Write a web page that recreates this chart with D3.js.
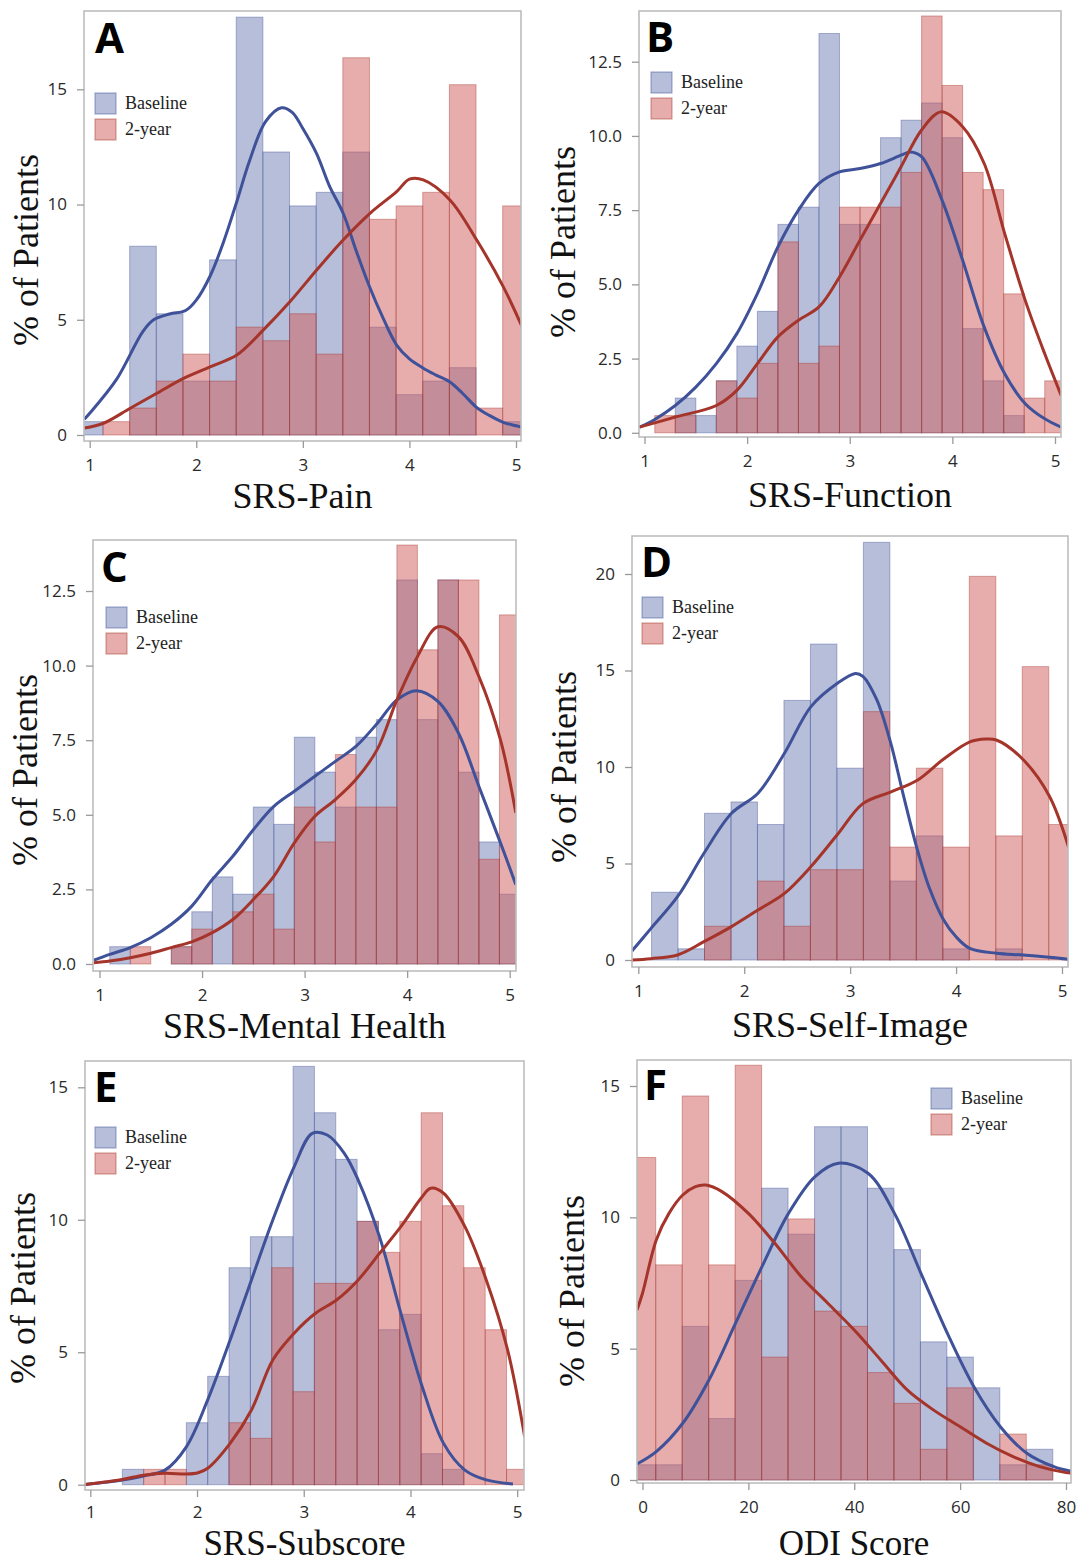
<!DOCTYPE html>
<html><head><meta charset="utf-8">
<script src="https://cdn.jsdelivr.net/npm/d3@7"></script>
<style>body{margin:0;background:#fff}</style>
</head><body>
<svg id="chart" width="1078" height="1563" xmlns="http://www.w3.org/2000/svg"></svg>
<script>
// ---------------- DATA (percent of patients) ----------------
const seriesNames = ["Baseline", "2-year"];

// A: SRS-Pain (bin width 0.25)
const aCenters  = [1.0,1.25,1.5,1.75,2.0,2.25,2.5,2.75,3.0,3.25,3.5,3.75,4.0,4.25,4.5,4.75,5.0];
const aBaseline = [0.58,0,8.19,5.26,2.34,7.60,18.13,12.28,9.94,10.53,12.28,4.68,1.75,2.34,2.92,0,0.58];
const aTwoYear  = [0,0.58,1.17,2.34,3.51,2.34,4.68,4.09,5.26,3.51,16.37,9.36,9.94,10.53,15.20,1.17,9.94];
const aBaseCurve = [[0.95,0.68],[1.0,0.94],[1.25,2.4],[1.5,4.5],[1.6,5.0],[1.75,5.25],[1.9,5.4],[2.0,5.85],[2.13,6.9],[2.25,8.3],[2.385,10.2],[2.5,11.9],[2.65,13.6],[2.8,14.2],[2.9,14.0],[3.0,13.3],[3.13,12.2],[3.25,10.8],[3.38,9.6],[3.5,8.0],[3.62,6.5],[3.75,5.1],[3.88,3.9],[4.0,3.3],[4.13,2.9],[4.25,2.6],[4.38,2.3],[4.5,1.8],[4.63,1.2],[4.75,0.85],[4.88,0.55],[5.0,0.4],[5.07,0.32]];
const aTwoCurve  = [[0.95,0.3],[1.13,0.51],[1.38,1.16],[1.63,1.81],[1.88,2.46],[2.13,2.96],[2.38,3.47],[2.63,4.56],[2.88,5.79],[3.13,7.16],[3.38,8.47],[3.63,9.62],[3.88,10.56],[4.0,11.1],[4.13,11.07],[4.38,10.2],[4.63,8.47],[4.88,6.44],[5.07,4.56]];

// B: SRS-Function (bin width 0.2)
const bCenters  = [1.2,1.4,1.6,1.8,2.0,2.2,2.4,2.6,2.8,3.0,3.2,3.4,3.6,3.8,4.0,4.2,4.4,4.6,4.8,5.0];
const bBaseline = [0,1.17,0.58,1.75,2.92,4.09,7.02,7.60,13.45,7.02,7.02,9.94,10.53,11.11,9.94,3.51,1.75,0.58,0,0];
const bTwoYear  = [0.58,0.58,0,1.75,1.17,2.34,6.43,2.34,2.92,7.60,7.60,7.60,8.77,14.04,11.70,8.77,8.19,4.68,1.17,1.75];
const bBaseCurve = [[0.95,0.19],[1.1,0.45],[1.3,0.92],[1.5,1.54],[1.7,2.33],[1.9,3.34],[2.1,4.69],[2.3,6.26],[2.5,7.5],[2.7,8.4],[2.9,8.79],[3.1,8.9],[3.3,9.07],[3.5,9.35],[3.59,9.46],[3.7,9.3],[3.9,7.83],[4.1,5.81],[4.31,3.56],[4.51,1.99],[4.71,0.98],[4.9,0.47],[5.06,0.19]];
const bTwoCurve  = [[0.95,0.19],[1.3,0.53],[1.7,0.92],[1.9,1.43],[2.1,2.33],[2.3,3.23],[2.5,3.79],[2.7,4.24],[2.9,5.25],[3.1,6.49],[3.3,7.72],[3.5,8.96],[3.7,10.2],[3.89,10.81],[4.1,10.31],[4.31,9.07],[4.51,6.71],[4.71,4.46],[4.9,2.66],[5.06,1.26]];

// C: SRS-Mental Health (bin width 0.2)
const cCenters  = [1.2,1.4,1.6,1.8,2.0,2.2,2.4,2.6,2.8,3.0,3.2,3.4,3.6,3.8,4.0,4.2,4.4,4.6,4.8,5.0];
const cBaseline = [0.58,0,0,0.58,1.75,2.92,2.34,5.26,4.68,7.60,6.43,5.26,7.60,8.19,12.87,8.19,12.87,6.43,4.09,2.34];
const cTwoYear  = [0,0.58,0,0.58,1.17,0,1.75,2.34,1.17,5.26,4.09,7.02,5.26,5.26,14.04,10.53,12.87,12.87,3.51,11.70];
const cBaseCurve = [[0.946,0.13],[1.1,0.32],[1.3,0.55],[1.5,0.88],[1.7,1.33],[1.9,1.94],[2.1,2.83],[2.3,3.61],[2.5,4.5],[2.7,5.28],[2.9,5.79],[3.1,6.29],[3.3,6.79],[3.5,7.29],[3.71,8.07],[3.9,8.85],[4.09,9.16],[4.3,8.8],[4.5,7.74],[4.7,5.95],[4.91,4.06],[5.06,2.66]];
const cTwoCurve  = [[0.946,0.04],[1.1,0.1],[1.3,0.21],[1.5,0.36],[1.7,0.55],[1.9,0.74],[2.1,1.05],[2.3,1.49],[2.5,2.16],[2.7,2.94],[2.9,4.06],[3.1,4.95],[3.3,5.51],[3.5,6.18],[3.71,7.2],[3.9,8.85],[4.1,10.3],[4.3,11.3],[4.5,10.97],[4.7,9.63],[4.91,7.51],[5.06,5.06]];

// D: SRS-Self-Image (bin width 0.25)
const dCenters  = [1.25,1.5,1.75,2.0,2.25,2.5,2.75,3.0,3.25,3.5,3.75,4.0,4.25,4.5,4.75,5.0];
const dBaseline = [3.51,0.58,7.60,8.19,7.02,13.45,16.37,9.94,21.64,4.09,6.43,0.58,0,0.58,0,0];
const dTwoYear  = [0,0,1.75,0,4.09,1.75,4.68,4.68,12.87,5.85,9.94,5.85,19.88,6.43,15.20,7.02];
const dBaseCurve = [[0.94,0.47],[1.12,1.64],[1.37,3.28],[1.62,5.53],[1.88,7.6],[2.13,8.64],[2.38,10.71],[2.63,13.13],[2.88,14.34],[3.05,14.85],[3.12,14.7],[3.25,13.5],[3.38,11.3],[3.5,8.6],[3.63,5.8],[3.75,3.7],[3.88,2.1],[4.0,1.2],[4.13,0.6],[4.38,0.35],[4.63,0.26],[4.88,0.14],[5.065,0.03]];
const dTwoCurve  = [[0.94,0],[1.12,0.07],[1.37,0.26],[1.62,0.95],[1.88,1.73],[2.13,2.59],[2.38,3.45],[2.63,4.84],[2.88,6.5],[3.12,8.1],[3.38,8.7],[3.63,9.3],[3.88,10.4],[4.13,11.3],[4.28,11.45],[4.38,11.4],[4.63,10.4],[4.88,8.5],[5.065,5.8]];

// E: SRS-Subscore (bin width 0.2)
const eCenters  = [1.4,1.6,1.8,2.0,2.2,2.4,2.6,2.8,3.0,3.2,3.4,3.6,3.8,4.0,4.2,4.4,4.6,4.8,5.0];
const eBaseline = [0.58,0,0,2.34,4.09,8.19,9.36,9.36,15.79,14.04,12.28,9.94,5.85,6.43,1.17,0.58,0,0,0];
const eTwoYear  = [0,0.58,0.58,0,0,2.34,1.75,8.19,3.51,7.60,7.60,9.94,8.77,9.94,14.04,10.53,8.19,5.85,0.58];
const eBaseCurve = [[0.95,0.01],[1.3,0.18],[1.5,0.33],[1.7,0.55],[1.9,1.43],[2.1,3.2],[2.31,5.46],[2.51,7.73],[2.71,9.99],[2.91,12.0],[3.08,13.26],[3.22,13.2],[3.38,12.51],[3.51,11.5],[3.71,9.36],[3.91,6.47],[4.11,3.7],[4.31,1.56],[4.51,0.55],[4.71,0.18],[4.96,0.03]];
const eTwoCurve  = [[0.95,0.01],[1.3,0.2],[1.5,0.36],[1.7,0.43],[1.9,0.4],[2.01,0.45],[2.1,0.62],[2.31,1.56],[2.51,2.82],[2.71,4.71],[2.91,5.72],[3.11,6.47],[3.31,6.98],[3.51,7.73],[3.71,8.73],[3.91,9.74],[4.11,10.87],[4.19,11.19],[4.31,11.0],[4.51,9.74],[4.71,7.73],[4.91,5.09],[5.07,1.81]];

// F: ODI Score (bin width 5)
const fCenters  = [0,5,10,15,20,25,30,35,40,45,50,55,60,65,70,75,80];
const fBaseline = [0.58,0.58,5.85,2.34,7.60,11.11,9.36,13.45,13.45,11.11,8.77,5.26,4.68,3.51,0.58,1.17,0];
const fTwoYear  = [12.28,8.19,14.62,8.19,15.79,4.68,9.94,6.43,5.85,4.09,2.92,1.17,3.51,0,1.75,0.58,0];
const fBaseCurve = [[-1.04,0.61],[2.6,1.08],[7.6,2.16],[12.55,3.81],[17.56,5.96],[22.57,8.12],[27.58,10.15],[32.59,11.55],[37.0,12.06],[42.6,11.68],[47.6,10.15],[52.6,7.87],[57.6,5.58],[62.6,3.55],[67.6,2.03],[72.6,1.02],[77.7,0.51],[81.3,0.32]];
const fTwoCurve  = [[-1.04,6.47],[0,7.11],[2.6,9.14],[5,10.15],[7.6,10.85],[10,11.17],[11.97,11.23],[15,10.98],[20,10.15],[25,9.01],[30,7.74],[35,6.73],[40,5.71],[45,4.57],[50,3.43],[55,2.66],[60,2.03],[65,1.4],[70,0.89],[75,0.51],[80,0.28],[81.3,0.25]];

// tick labels
const xTicks15  = [1,2,3,4,5];
const xTicksODI = [0,20,40,60,80];
const yTicksA = [0,5,10,15];
const yTicksB = [0,2.5,5,7.5,10,12.5];
const yTicksD = [0,5,10,15,20];
const yTicksF = [0,5,10,15];

// ---------------- LAYOUT ----------------
const panels = [
 {id:"A", title:"SRS-Pain", w:0.25, centers:aCenters, base:aBaseline, two:aTwoYear, bc:aBaseCurve, tc:aTwoCurve,
  xt:xTicks15, yt:yTicksA, yf:d3.format("d"),
  frame:[84,11,521,441], xA:[[1,89.7],[5,516]], yA:[[0,435],[15,89.3]], legend:[95,93], letter:[95,53], ytitle:[38,250], xtitleY:508, tfs:36, tp:11},
 {id:"B", title:"SRS-Function", w:0.2, centers:bCenters, base:bBaseline, two:bTwoYear, bc:bBaseCurve, tc:bTwoCurve,
  xt:xTicks15, yt:yTicksB, yf:d3.format(".1f"),
  frame:[639,11,1061,437], xA:[[1,644.5],[5,1055]], yA:[[0,432.8],[12.5,61.7]], legend:[651,72], letter:[646,52], ytitle:[575,242], xtitleY:507, tfs:36, tp:11},
 {id:"C", title:"SRS-Mental Health", w:0.2, centers:cCenters, base:cBaseline, two:cTwoYear, bc:cBaseCurve, tc:cTwoCurve,
  xt:xTicks15, yt:yTicksB, yf:d3.format(".1f"),
  frame:[93,540,516,971], xA:[[1,99.5],[5,509.7]], yA:[[0,964],[12.5,591]], legend:[106,607], letter:[101,582], ytitle:[37,770], xtitleY:1038, tfs:36, tp:11},
 {id:"D", title:"SRS-Self-Image", w:0.25, centers:dCenters, base:dBaseline, two:dTwoYear, bc:dBaseCurve, tc:dTwoCurve,
  xt:xTicks15, yt:yTicksD, yf:d3.format("d"),
  frame:[632,536,1068,967], xA:[[1,638.3],[5,1062]], yA:[[0,960],[20,574]], legend:[642,597], letter:[641,577], ytitle:[576,767], xtitleY:1037, tfs:36, tp:11},
 {id:"E", title:"SRS-Subscore", w:0.2, centers:eCenters, base:eBaseline, two:eTwoYear, bc:eBaseCurve, tc:eTwoCurve,
  xt:xTicks15, yt:yTicksA, yf:d3.format("d"),
  frame:[85,1061,524,1490], xA:[[1,90.3],[5,517.2]], yA:[[0,1484.7],[15,1087.3]], legend:[95,1127], letter:[94,1102], ytitle:[35,1288], xtitleY:1554.5, tfs:35, tp:9},
 {id:"F", title:"ODI Score", w:5, centers:fCenters, base:fBaseline, two:fTwoYear, bc:fBaseCurve, tc:fTwoCurve,
  xt:xTicksODI, yt:yTicksF, yf:d3.format("d"),
  frame:[637,1060,1071,1483], xA:[[0,642.5],[80,1066]], yA:[[0,1480],[15,1086]], legend:[931,1088], letter:[644,1100], ytitle:[584,1291], xtitleY:1554.5, tfs:35, tp:11}
];

const BLUE = "#6F7EB3", RED = "#D05B5B";
const BLUE_LINE = "#3E5199", RED_LINE = "#A5352B";
const SANS = "'Open Sans', 'DejaVu Sans', sans-serif";
const SERIF = "'Liberation Serif', 'Times New Roman', serif";

const svg = d3.select("#chart");
const defs = svg.append("defs");

panels.forEach(p => {
  const [l, t, r, b] = p.frame;
  const x = d3.scaleLinear().domain([p.xA[0][0], p.xA[1][0]]).range([p.xA[0][1], p.xA[1][1]]);
  const y = d3.scaleLinear().domain([p.yA[0][0], p.yA[1][0]]).range([p.yA[0][1], p.yA[1][1]]);
  const g = svg.append("g").attr("class", "panel-" + p.id);

  defs.append("clipPath").attr("id", "clip" + p.id)
    .append("rect").attr("x", l).attr("y", t).attr("width", r - l).attr("height", b - t);
  const plot = g.append("g").attr("clip-path", `url(#clip${p.id})`);

  [[p.base, BLUE, BLUE_LINE], [p.two, RED, RED_LINE]].forEach(([vals, fill, stroke]) => {
    plot.append("g").selectAll("rect")
      .data(p.centers.map((c, i) => ({c, v: vals[i]})).filter(d => d.v > 0))
      .join("rect")
      .attr("x", d => x(d.c - p.w / 2))
      .attr("width", d => x(d.c + p.w / 2) - x(d.c - p.w / 2))
      .attr("y", d => y(d.v))
      .attr("height", d => y(0) - y(d.v))
      .attr("fill", fill).attr("fill-opacity", 0.5)
      .attr("stroke", stroke).attr("stroke-opacity", 0.4).attr("stroke-width", 1);
  });

  const line = d3.line().x(d => x(d[0])).y(d => y(d[1])).curve(d3.curveCatmullRom.alpha(0.5));
  plot.append("path").datum(p.bc).attr("d", line).attr("fill", "none")
    .attr("stroke", BLUE_LINE).attr("stroke-width", 3).attr("stroke-linejoin", "round");
  plot.append("path").datum(p.tc).attr("d", line).attr("fill", "none")
    .attr("stroke", RED_LINE).attr("stroke-width", 3).attr("stroke-linejoin", "round");

  // frame
  g.append("rect").attr("x", l).attr("y", t).attr("width", r - l).attr("height", b - t)
    .attr("fill", "none").attr("stroke", "#bdbdbd").attr("stroke-width", 1.6);

  // axes
  const xa = g.append("g").attr("transform", `translate(0,${b})`)
    .call(d3.axisBottom(x).tickValues(p.xt).tickSize(7).tickPadding(p.tp).tickFormat(d3.format("d")));
  const ya = g.append("g").attr("transform", `translate(${l},0)`)
    .call(d3.axisLeft(y).tickValues(p.yt).tickSize(7).tickPadding(10).tickFormat(p.yf));
  [xa, ya].forEach(a => {
    a.select(".domain").remove();
    a.selectAll(".tick line").attr("stroke", "#9a9a9a").attr("stroke-width", 1.3);
    a.selectAll(".tick text").attr("fill", "#2a2a2a").style("font-family", SANS).style("font-size", "17px");
  });

  // axis titles
  g.append("text").attr("x", (l + r) / 2).attr("y", p.xtitleY).attr("text-anchor", "middle")
    .style("font-family", SERIF).style("font-size", p.tfs + "px").attr("fill", "#111").text(p.title);
  g.append("text").attr("transform", `translate(${p.ytitle[0]},${p.ytitle[1]}) rotate(-90)`)
    .attr("text-anchor", "middle")
    .style("font-family", SERIF).style("font-size", "36px").attr("fill", "#111").text("% of Patients");

  // panel letter
  g.append("text").attr("x", p.letter[0]).attr("y", p.letter[1])
    .style("font-family", SANS).style("font-weight", "700").style("font-size", "42px")
    .attr("fill", "#000").text(p.id);

  // legend
  const lg = g.append("g").attr("transform", `translate(${p.legend[0]},${p.legend[1]})`);
  [[BLUE, BLUE_LINE], [RED, RED_LINE]].forEach(([f, s], i) => {
    lg.append("rect").attr("x", 0).attr("y", i * 26).attr("width", 21).attr("height", 21)
      .attr("fill", f).attr("fill-opacity", 0.5).attr("stroke", s).attr("stroke-opacity", 0.45).attr("stroke-width", 1.2);
    lg.append("text").attr("x", 30).attr("y", i * 26 + 16)
      .style("font-family", SERIF).style("font-size", "18px").attr("fill", "#222").text(seriesNames[i]);
  });
});
</script>
</body></html>
